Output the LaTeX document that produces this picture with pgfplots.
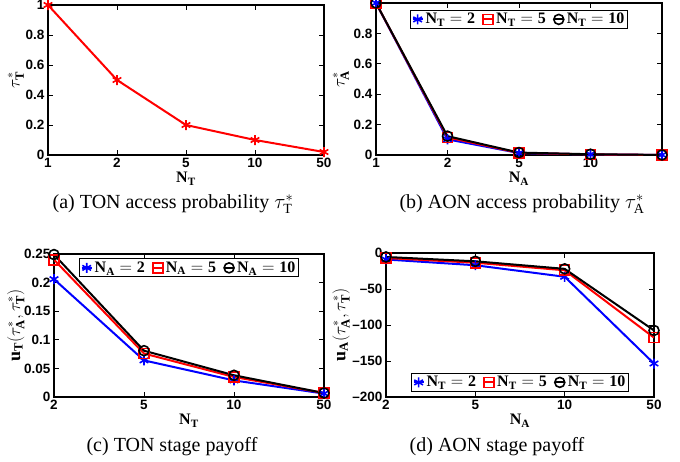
\documentclass[border=0pt]{standalone}
\usepackage{fontspec}
\setmainfont{Liberation Serif}
\setsansfont{Liberation Sans}
\usepackage{pgfplots}
\pgfplotsset{compat=1.18}
\pgfplotsset{
  mystyle/.style={
    scale only axis,
    axis line style={line width=1.3pt},
    every tick/.style={line width=0.9pt, black},
    major tick length=5pt,
    tick align=inside,
    /pgf/number format/assume math mode=true,
    ticklabel style={font=\fontsize{13.5}{13.5}\selectfont\sffamily\bfseries},
    label style={font=\fontsize{16}{16}\selectfont},
    xmin=0,
    every axis plot/.append style={line width=2pt, mark size=5pt, mark options={solid, line width=1.6pt}},
    legend style={draw=black, line width=1pt, font=\fontsize{16}{16}\selectfont, legend columns=3, inner sep=1pt,
      /tikz/every even column/.append style={column sep=5pt}},
    legend image code/.code={\draw[mark repeat=2,mark phase=2] plot coordinates {(-5pt,0pt) (0pt,0pt) (5pt,0pt)};},
  },
}
\begin{document}
\begin{tikzpicture}
\useasboundingbox (0pt,0pt) rectangle (680pt,-461pt);
% (a)
\begin{axis}[mystyle, at={(48pt,-155pt)}, anchor=south west, width=276pt, height=150pt,
  xmax=4, ymin=0, ymax=1, xtick={0,1,2,3,4}, xticklabels={1,2,5,10,50},
  ytick={0,0.2,0.4,0.6,0.8,1}, yticklabels={0,0.2,0.4,0.6,0.8,1},
  xlabel={$\mathbf{N_T}$}, ylabel={$\tau^*_{\mathbf{T}}$},
  xlabel style={yshift=3pt}, ylabel style={yshift=-5pt, font=\fontsize{18}{18}\selectfont}]
\addplot[red, mark=asterisk] coordinates {(0,1) (1,0.5) (2,0.2) (3,0.1) (4,0.02)};
\end{axis}
\node[font=\fontsize{20}{20}\selectfont] at (173pt,-204pt) {(a) TON access probability $\tau^*_{\mathrm{T}}$};
% (b)
\begin{axis}[mystyle, at={(376pt,-155pt)}, anchor=south west, width=286pt, height=152pt,
  xmax=4, ymin=0, ymax=1, xtick={0,1,2,3,4}, xticklabels={1,2,5,10,{}},
  ytick={0,0.2,0.4,0.6,0.8}, yticklabels={0,0.2,0.4,0.6,0.8},
  xlabel={$\mathbf{N_A}$}, ylabel={$\tau^*_{\mathbf{A}}$},
  xlabel style={yshift=3pt}, ylabel style={yshift=-2pt, font=\fontsize{18}{18}\selectfont},
  legend style={at={(0.5,0.955)}, anchor=north}]
\addplot[blue, mark=asterisk] coordinates {(0,1) (1,0.103) (2,0.013) (3,0.004) (4,0.0005)};
\addplot[red, mark=square] coordinates {(0,1) (1,0.116) (2,0.014) (3,0.004) (4,0.0005)};
\addplot[black, mark=o] coordinates {(0,1) (1,0.124) (2,0.016) (3,0.005) (4,0.0005)};
\legend{$\mathbf{N_T=2}$, $\mathbf{N_T=5}$, $\mathbf{N_T=10}$}
\end{axis}
\node[font=\fontsize{20}{20}\selectfont] at (522pt,-204pt) {(b) AON access probability $\tau^*_{\mathrm{A}}$};
% (c)
\begin{axis}[mystyle, at={(54pt,-397pt)}, anchor=south west, width=270pt, height=143pt,
  xmax=3, ymin=0, ymax=0.25, xtick={0,1,2,3}, xticklabels={2,5,10,50},
  ytick={0,0.05,0.1,0.15,0.2,0.25}, yticklabels={0,0.05,0.1,0.15,0.2,0.25},
  xlabel={$\mathbf{N_T}$}, ylabel={$\mathbf{u_T}(\tau^*_{\mathbf{A}},\tau^*_{\mathbf{T}})$},
  xlabel style={yshift=3pt}, ylabel style={yshift=-7pt, font=\fontsize{18}{18}\selectfont},
  legend style={at={(0.5,0.97)}, anchor=north}]
\addplot[blue, mark=asterisk] coordinates {(0,0.206) (1,0.064) (2,0.029) (3,0.006)};
\addplot[red, mark=square] coordinates {(0,0.240) (1,0.076) (2,0.035) (3,0.007)};
\addplot[black, mark=o] coordinates {(0,0.249) (1,0.081) (2,0.038) (3,0.007)};
\legend{$\mathbf{N_A=2}$, $\mathbf{N_A=5}$, $\mathbf{N_A=10}$}
\end{axis}
\node[font=\fontsize{20}{20}\selectfont] at (172pt,-447pt) {(c) TON stage payoff};
% (d)
\begin{axis}[mystyle, at={(386pt,-397pt)}, anchor=south west, width=268pt, height=144pt,
  xmax=3, ymin=-200, ymax=0, xtick={0,1,2,3}, xticklabels={2,5,10,50},
  ytick={-200,-150,-100,-50,0}, yticklabels={--200,--150,--100,--50,0},
  xlabel={$\mathbf{N_A}$}, ylabel={$\mathbf{u_A}(\tau^*_{\mathbf{A}},\tau^*_{\mathbf{T}})$},
  xlabel style={yshift=3pt}, ylabel style={yshift=-4pt, font=\fontsize{18}{18}\selectfont},
  legend style={at={(0.5,0.035)}, anchor=south}]
\addplot[blue, mark=asterisk] coordinates {(0,-9) (1,-17) (2,-33) (3,-153.5)};
\addplot[red, mark=square] coordinates {(0,-7) (1,-13.5) (2,-24) (3,-117.5)};
\addplot[black, mark=o] coordinates {(0,-5.5) (1,-11.5) (2,-22) (3,-107.5)};
\legend{$\mathbf{N_T=2}$, $\mathbf{N_T=5}$, $\mathbf{N_T=10}$}
\end{axis}
\node[font=\fontsize{20}{20}\selectfont] at (497pt,-447pt) {(d) AON stage payoff};
\end{tikzpicture}
\end{document}
